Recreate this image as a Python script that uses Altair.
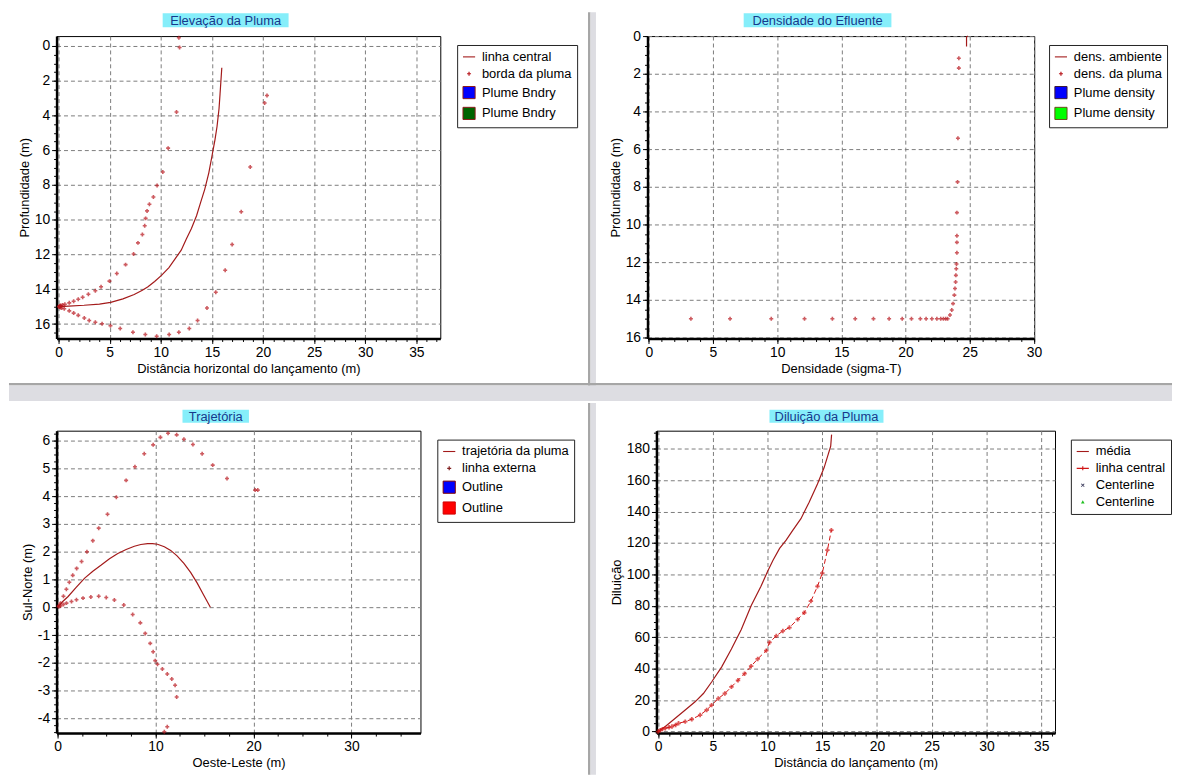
import altair as alt
import pandas as pd

FONT = "Liberation Sans"
DARKRED = "#a31a1a"
PTRED = "#b8161c"

# ---------------- Panel 1: Elevação da Pluma ----------------
p1_cl_x = [0, 1, 2.5, 4, 5.1, 6.3, 7.4, 8.2, 8.75, 9.4, 10.07, 10.8, 11.4, 12.0, 12.5, 13.0, 13.5, 13.9, 14.3, 14.7, 15.0, 15.3, 15.5, 15.7, 15.8, 15.97]
p1_cl_y = [15.0, 14.97, 14.92, 14.85, 14.75, 14.55, 14.3, 14.05, 13.85, 13.55, 13.2, 12.75, 12.25, 11.75, 11.1, 10.5, 9.77, 9.0, 8.25, 7.3, 6.36, 5.4, 4.65, 3.6, 2.75, 1.25]
p1_bu_x = [0.05, 0.1, 0.16, 0.23, 0.4, 0.62, 1.05, 1.48, 1.93, 2.36, 2.92, 3.6, 4.16, 4.98, 5.7, 6.56, 7.34, 7.77, 8.2, 8.43, 8.52, 8.66, 8.89, 9.28, 9.64, 10.2, 10.72, 11.54, 11.84, 11.77]
p1_bu_y = [14.99, 14.97, 14.95, 14.93, 14.9, 14.86, 14.78, 14.69, 14.57, 14.46, 14.29, 14.08, 13.85, 13.53, 13.09, 12.58, 11.97, 11.33, 10.85, 10.34, 9.92, 9.49, 9.11, 8.69, 8.03, 7.25, 5.88, 3.8, 0.09, -0.47]
p1_bl_x = [0.08, 0.18, 0.3, 0.56, 1.05, 1.48, 1.93, 2.52, 3.0, 3.6, 4.26, 5.08, 6.03, 7.28, 8.49, 9.6, 10.82, 11.77, 12.79, 13.6, 14.52, 15.38, 16.3, 16.98, 17.87, 18.75, 20.16, 20.39]
p1_bl_y = [15.02, 15.05, 15.08, 15.12, 15.24, 15.37, 15.5, 15.65, 15.8, 15.9, 15.98, 16.1, 16.26, 16.47, 16.6, 16.7, 16.6, 16.47, 16.26, 15.8, 15.08, 14.17, 12.9, 11.42, 9.54, 6.96, 3.28, 2.85]
p1_xticks = [0, 5, 10, 15, 20, 25, 30, 35]
p1_yticks = [0, 2, 4, 6, 8, 10, 12, 14, 16]
p1_legend = ["linha central", "borda da pluma", "Plume Bndry", "Plume Bndry#2"]

# ---------------- Panel 2: Densidade do Efluente ----------------
p2_amb_x = [24.85, 24.75, 24.75]
p2_amb_y = [0.0, 0.05, 0.56]
p2_pl_x = [3.28, 6.33, 9.54, 12.13, 14.3, 16.08, 17.5, 18.72, 19.74, 20.46, 21.15, 21.6, 22.05, 22.44, 22.74, 22.95, 23.13, 23.28,
           23.46, 23.6, 23.7, 23.8, 23.85, 23.9, 23.92, 23.95, 23.97, 24.0, 24.0, 24.0, 24.0, 24.05, 24.08, 24.15, 24.15]
p2_pl_y = [15.0, 15.0, 15.0, 15.0, 15.0, 15.0, 15.0, 15.0, 15.0, 15.0, 15.0, 15.0, 15.0, 15.0, 15.0, 15.0, 15.0, 15.0,
           14.8, 14.54, 14.2, 13.75, 13.4, 13.05, 12.7, 12.35, 12.1, 11.5, 10.95, 10.6, 9.37, 7.74, 5.42, 1.7, 1.18]
p2_xticks = [0, 5, 10, 15, 20, 25, 30]
p2_yticks = [0, 2, 4, 6, 8, 10, 12, 14, 16]
p2_legend = ["dens. ambiente", "dens. da pluma", "Plume density", "Plume density#2"]

# ---------------- Panel 3: Trajetória ----------------
p3_cl_x = [0, 0.5, 1.08, 1.9, 2.77, 3.6, 4.46, 5.3, 6.15, 7.0, 7.84, 8.5, 9.19, 9.7, 10.2, 10.9, 11.55, 12.2, 12.9, 13.6, 14.26, 14.9, 15.6]
p3_cl_y = [0, 0.2, 0.39, 0.72, 1.05, 1.3, 1.52, 1.75, 1.94, 2.08, 2.2, 2.26, 2.29, 2.29, 2.27, 2.18, 2.05, 1.85, 1.58, 1.25, 0.87, 0.45, 0.0]
p3_ou_x = [0.12, 0.3, 0.6, 0.9, 1.2, 1.55, 1.95, 2.45, 3.0, 3.6, 4.2, 5.1, 6.0, 7.0, 7.9, 8.85, 9.76, 10.5, 11.28, 12.16, 12.9, 13.82, 14.76, 15.84, 17.3, 20.17, 20.44]
p3_ou_y = [0.06, 0.15, 0.4, 0.65, 0.9, 1.15, 1.4, 1.65, 2.0, 2.4, 2.85, 3.35, 3.96, 4.57, 5.06, 5.53, 5.85, 6.12, 6.27, 6.21, 6.05, 5.86, 5.53, 5.12, 4.64, 4.22, 4.22]
p3_ol_x = [0.12, 0.3, 0.6, 0.91, 1.42, 1.93, 2.6, 3.4, 4.2, 4.97, 5.8, 6.76, 7.67, 8.45, 8.95, 9.46, 9.76, 9.97, 10.2, 10.7, 11.2, 11.66, 12.0, 12.16, 11.2, 10.9]
p3_ol_y = [0.02, 0.05, 0.1, 0.15, 0.21, 0.27, 0.33, 0.37, 0.4, 0.35, 0.26, 0.08, -0.26, -0.56, -0.94, -1.3, -1.6, -1.92, -2.05, -2.22, -2.4, -2.58, -2.81, -3.23, -4.3, -4.48]
p3_xticks = [0, 10, 20, 30]
p3_yticks = [-4, -3, -2, -1, 0, 1, 2, 3, 4, 5, 6]
p3_legend = ["trajetória da pluma", "linha externa", "Outline", "Outline#2"]

# ---------------- Panel 4: Diluição da Pluma ----------------
p4_med_x = [0, 0.66, 1.57, 2.48, 3.38, 4.14, 4.89, 5.8, 6.7, 7.6, 8.5, 9.4, 10.0, 10.5, 11.1, 11.7, 12.3, 13.05, 13.8, 14.56, 15.17, 15.77, 15.85]
p4_med_y = [0, 3.15, 8.4, 13.7, 18.9, 24.2, 31.5, 41, 52.5, 65, 80, 92.4, 101.9, 109, 116.6, 121.8, 128, 135.5, 146, 157.6, 168, 181.7, 189]
p4_cl_x = [0, 0.2, 0.4, 0.66, 1.0, 1.27, 1.6, 1.87, 2.48, 3.08, 3.84, 4.44, 4.89, 5.5, 6.1, 6.7, 7.3, 7.9, 8.5, 9.1, 9.88, 10.18, 10.8, 11.4, 12.0, 12.75, 13.35, 13.96, 14.56, 15.0, 15.47, 15.83]
p4_cl_y = [0, 0.8, 1.5, 2.1, 2.7, 3.15, 4.2, 5.25, 6.3, 7.8, 10.5, 13.7, 16.8, 21, 24.2, 28.4, 32.6, 36.8, 41.6, 46.2, 51.5, 56.7, 60.9, 64, 66.2, 71.4, 75.6, 83, 92.4, 100.8, 115.5, 128.2]
p4_xticks = [0, 5, 10, 15, 20, 25, 30, 35]
p4_yticks = [0, 20, 40, 60, 80, 100, 120, 140, 160, 180]
p4_legend = ["média", "linha central", "Centerline", "Centerline#2"]

# legend symbol paths
LINE = "M-1,-0.09H1V0.09H-1Z"
PLUS = "M-0.33,-0.1H-0.1V-0.33H0.1V-0.1H0.33V0.1H0.1V0.33H-0.1V0.1H-0.33Z"
LINEPLUS = "M-1,-0.09H1V0.09H-1Z M-0.33,-0.09H-0.09V-0.33H0.09V-0.09H0.33V0.09H0.09V0.33H-0.09V0.09H-0.33Z"
SMALLX = "M-0.3,-0.2L-0.2,-0.3L0,-0.1L0.2,-0.3L0.3,-0.2L0.1,0L0.3,0.2L0.2,0.3L0,0.1L-0.2,0.3L-0.3,0.2L-0.1,0Z"
SMALLTRI = "M0,-0.3L0.3,0.25L-0.3,0.25Z"


def line_df(xs, ys):
    return pd.DataFrame({"x": xs, "y": ys, "i": list(range(len(xs)))})


def pts_df(xs, ys):
    return pd.DataFrame({"x": xs, "y": ys})


ONE = pd.DataFrame({"k": [0]})


def major_axis(vals, title, orient):
    return alt.Axis(values=vals, title=title, orient=orient, grid=True,
                    gridColor="#7c7c7c", gridDash=[4, 3], gridWidth=1,
                    domain=True, domainColor="black", domainWidth=2.5,
                    ticks=True, tickSize=5, tickColor="black", tickWidth=1,
                    labelFont=FONT, labelFontSize=14, labelColor="black",
                    labelPadding=2, labelFlush=False, labelOverlap=False,
                    labelExpr="'' + datum.value",
                    titleFont=FONT, titleFontSize=13, titleFontWeight="normal",
                    titleColor="black", titlePadding=3)


def minor_axis(vals, orient):
    return alt.Axis(values=vals, title=None, orient=orient, grid=False, domain=False,
                    labels=False, ticks=True, tickSize=3, tickColor="black", tickWidth=1)


def xy(ch, sx, sy, ax, ay, order=False):
    enc = dict(x=alt.X("x:Q", scale=sx, axis=ax), y=alt.Y("y:Q", scale=sy, axis=ay))
    if order:
        enc["order"] = alt.Order("i:Q")
    return ch.encode(**enc)


def rect(x1, x2, y1, y2, color, opacity=1.0):
    return alt.Chart(ONE).mark_rect(fill=color, fillOpacity=opacity, strokeWidth=0).encode(
        x=alt.value(x1), x2=alt.value(x2), y=alt.value(y1), y2=alt.value(y2))


def title_layers(text, x1, x2, y1, y2):
    bg = rect(x1, x2, y1, y2, "#86eefa")
    tx = alt.Chart(ONE).mark_text(text=text, font=FONT, fontSize=13, color="#16398c",
                                  align="center", baseline="middle").encode(
        x=alt.value((x1 + x2) / 2), y=alt.value((y1 + y2) / 2 + 0.5))
    return [bg, tx]


def legend_layer(dom, fills, strokes, shapes, lx, ly):
    d = pd.DataFrame({"serie": dom})
    leg = alt.Legend(orient="none", legendX=lx, legendY=ly, title=None,
                     labelExpr="replace(datum.label, '#2', '')",
                     strokeColor="#222222", fillColor="white", padding=5,
                     symbolSize=150, symbolStrokeWidth=1, labelFont=FONT,
                     labelFontSize=13, labelColor="black", rowPadding=3, labelOffset=6)
    return alt.Chart(d).mark_point(filled=True, clip=True, size=150, strokeWidth=1, opacity=1).encode(
        x=alt.value(-3000), y=alt.value(-3000),
        fill=alt.Fill("serie:N", scale=alt.Scale(domain=dom, range=fills), legend=leg),
        stroke=alt.Stroke("serie:N", scale=alt.Scale(domain=dom, range=strokes), legend=leg),
        shape=alt.Shape("serie:N", scale=alt.Scale(domain=dom, range=shapes), legend=leg),
    )


SEP_DARK = "#a6a6a6"
SEP_LIGHT = "#dddde2"

# ---------- Panel 1 ----------
sx1 = alt.Scale(domain=[-0.19, 37.34], nice=False, zero=False)
sy1 = alt.Scale(domain=[-0.57, 16.83], nice=False, zero=False, reverse=True)
deco1 = [
    rect(536, 538.5, -24, 368, SEP_DARK),
    rect(538.5, 544, -24, 368, SEP_LIGHT),
    rect(-48, 1125, 350, 352.5, SEP_DARK),
    rect(-48, 1125, 352.5, 368, SEP_LIGHT),
]
p1 = alt.layer(
    *deco1,
    *title_layers("Elevação da Pluma", 107, 234, -23, -9),
    xy(alt.Chart(line_df(p1_cl_x, p1_cl_y)).mark_line(color=DARKRED, strokeWidth=1.2), sx1, sy1,
       major_axis(p1_xticks, "Distância horizontal do lançamento (m)", "bottom"),
       major_axis(p1_yticks, "Profundidade (m)", "left"), order=True),
    xy(alt.Chart(pts_df(p1_bu_x + p1_bl_x, p1_bu_y + p1_bl_y)).mark_point(shape="cross", filled=True, size=16, color=PTRED),
       sx1, sy1, minor_axis(list(range(0, 38)), "bottom"),
       minor_axis([v / 2 for v in range(0, 34)], "left")),
    legend_layer(p1_legend, [DARKRED, PTRED, "#0000ff", "#006400"],
                 ["transparent", "transparent", "#8b1a1a", "#8b1a1a"],
                 [LINE, PLUS, "square", "square"], 404, 9),
).resolve_axis(x="independent", y="independent").properties(width=387, height=305)

# ---------- Panel 2 ----------
sx2 = alt.Scale(domain=[-0.1, 30.02], nice=False, zero=False)
sy2 = alt.Scale(domain=[0, 16.05], nice=False, zero=False, reverse=True)
p2 = alt.layer(
    *title_layers("Densidade do Efluente", 97, 246, -23, -9),
    xy(alt.Chart(line_df(p2_amb_x, p2_amb_y)).mark_line(color=DARKRED, strokeWidth=1.2), sx2, sy2,
       major_axis(p2_xticks, "Densidade (sigma-T)", "bottom"),
       major_axis(p2_yticks, "Profundidade (m)", "left"), order=True),
    xy(alt.Chart(pts_df(p2_pl_x, p2_pl_y)).mark_point(shape="cross", filled=True, size=16, color=PTRED),
       sx2, sy2, minor_axis(list(range(0, 31)), "bottom"),
       minor_axis([v / 2 for v in range(0, 33)], "left")),
    legend_layer(p2_legend, [DARKRED, PTRED, "#0000ff", "#00ff00"],
                 ["transparent", "transparent", "#3a1a3a", "#6b4a1a"],
                 [LINE, PLUS, "square", "square"], 405, 9),
).resolve_axis(x="independent", y="independent").properties(width=390, height=305)

# ---------- Panel 3 ----------
sx3 = alt.Scale(domain=[-0.1, 37.05], nice=False, zero=False)
sy3 = alt.Scale(domain=[-4.53, 6.36], nice=False, zero=False)
deco3 = [
    rect(536, 538.5, -28, 347, SEP_DARK),
    rect(538.5, 544, -28, 347, SEP_LIGHT),
]
p3 = alt.layer(
    *deco3,
    *title_layers("Trajetória", 127, 194, -21, -8),
    xy(alt.Chart(line_df(p3_cl_x, p3_cl_y)).mark_line(color=DARKRED, strokeWidth=1.2), sx3, sy3,
       major_axis(p3_xticks, "Oeste-Leste (m)", "bottom"),
       major_axis(p3_yticks, "Sul-Norte (m)", "left"), order=True),
    xy(alt.Chart(pts_df(p3_ou_x + p3_ol_x, p3_ou_y + p3_ol_y)).mark_point(shape="cross", filled=True, size=16, color=PTRED),
       sx3, sy3, minor_axis([v * 2.5 for v in range(0, 15)], "bottom"),
       minor_axis([v / 4 - 4.5 for v in range(0, 44)], "left")),
    legend_layer(p3_legend, [DARKRED, "#802020", "#0000ff", "#ff0000"],
                 ["transparent", "transparent", "#800000", "#d00000"],
                 [LINE, PLUS, "square", "square"], 384, 9),
).resolve_axis(x="independent", y="independent").properties(width=367, height=305)

# ---------- Panel 4 ----------
sx4 = alt.Scale(domain=[-0.15, 36.26], nice=False, zero=False)
sy4 = alt.Scale(domain=[-1.0, 191.5], nice=False, zero=False)
p4 = alt.layer(
    *title_layers("Diluição da Pluma", 114, 229, -21, -8),
    xy(alt.Chart(line_df(p4_med_x, p4_med_y)).mark_line(color=DARKRED, strokeWidth=1.2), sx4, sy4,
       major_axis(p4_xticks, "Distância do lançamento (m)", "bottom"),
       major_axis(p4_yticks, "Diluição", "left"), order=True),
    xy(alt.Chart(line_df(p4_cl_x, p4_cl_y)).mark_line(color="#d01414", strokeWidth=1, strokeDash=[5, 3]), sx4, sy4,
       None, None, order=True),
    xy(alt.Chart(pts_df(p4_cl_x, p4_cl_y)).mark_point(shape="cross", filled=True, size=20, color="#d01414"),
       sx4, sy4, minor_axis(list(range(0, 37)), "bottom"),
       minor_axis([v * 5 for v in range(0, 39)], "left")),
    legend_layer(p4_legend, [DARKRED, "#d01414", "#404060", "#20c020"],
                 ["transparent", "transparent", "transparent", "transparent"],
                 [LINE, LINEPLUS, SMALLX, SMALLTRI], 418, 9),
).resolve_axis(x="independent", y="independent").properties(width=402, height=305)

res = dict(fill="independent", stroke="independent", shape="independent")
row1 = alt.hconcat(p1, p2, spacing=209, bounds="flush").resolve_scale(**res)
row2 = alt.hconcat(p3, p4, spacing=238, bounds="flush").resolve_scale(**res)

chart = alt.vconcat(row1, row2, spacing=0, bounds="full").resolve_scale(**res).properties(
    padding=0, background="white"
).configure_view(stroke="black", strokeWidth=1)

chart.save("out.html", embed_options={"renderer": "svg", "actions": False})
